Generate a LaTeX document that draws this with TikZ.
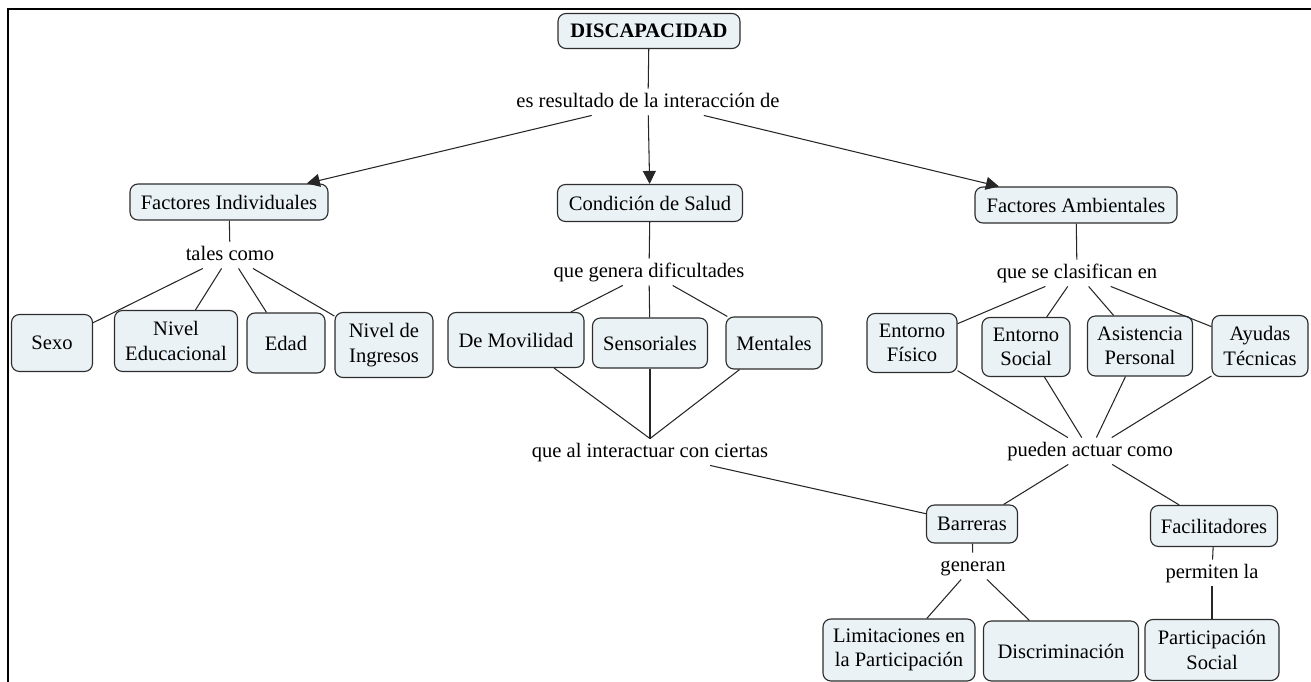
\documentclass[tikz,border=0pt]{standalone}
\usepackage{fontspec}
\setmainfont{Liberation Serif}
\usetikzlibrary{arrows.meta}
\definecolor{fondoconcepto}{RGB}{234,242,246}
\definecolor{bordeconcepto}{RGB}{45,45,45}

\begin{document}
\begin{tikzpicture}[x=0.02cm,y=-0.02cm,
	concepto/.style={draw=bordeconcepto,fill=fondoconcepto,rounded corners=4.5pt,line width=0.65pt,align=center,inner sep=2pt,font=\fontsize{11.7}{13.9}\selectfont},
	enlace/.style={inner sep=2pt,text height=8.3pt,text depth=2.6pt,font=\fontsize{11.7}{13.9}\selectfont},
	linea/.style={draw=black!85,line width=0.6pt},
	flecha/.style={linea,-{Triangle[length=7.4pt,width=7.4pt]}}]
	\useasboundingbox (0,0) rectangle (1311,682);

	% cadre
	\draw[line width=1.15pt] (8,682) -- (8,9) -- (1311,9);

	% racine
	\node[concepto,minimum width=3.64cm,minimum height=0.70cm] (disc) at (649,31) {\textbf{DISCAPACIDAD}};
	\node[enlace] (res) at (648,102) {es resultado de la interacción de};

	% niveau 1
	\node[concepto,minimum width=3.96cm,minimum height=0.72cm] (indiv) at (229,202) {Factores Individuales};
	\node[concepto,minimum width=3.70cm,minimum height=0.74cm] (salud) at (650,203) {Condición de Salud};
	\node[concepto,minimum width=4.04cm,minimum height=0.72cm] (amb) at (1076,205) {Factores Ambientales};

	\node[enlace] (tales) at (230,255) {tales como};
	\node[enlace] (genera) at (649,272) {que genera dificultades};
	\node[enlace] (clasif) at (1077,273) {que se clasifican en};

	% niveau 2
	\node[concepto,minimum width=1.62cm,minimum height=1.14cm] (sexo) at (52,343) {Sexo};
	\node[concepto,minimum width=2.46cm,minimum height=1.22cm] (niveduc) at (176,341) {Nivel\\Educacional};
	\node[concepto,minimum width=1.56cm,minimum height=1.20cm] (edad) at (286,343) {Edad};
	\node[concepto,minimum width=1.96cm,minimum height=1.30cm] (ingresos) at (384,345) {Nivel de\\Ingresos};

	\node[concepto,minimum width=2.72cm,minimum height=1.10cm] (movil) at (516,340) {De Movilidad};
	\node[concepto,minimum width=2.30cm,minimum height=1.00cm] (sensor) at (650,343) {Sensoriales};
	\node[concepto,minimum width=1.92cm,minimum height=1.04cm] (mental) at (774,343) {Mentales};

	\node[concepto,minimum width=1.80cm,minimum height=1.18cm] (fisico) at (912,343) {Entorno\\Físico};
	\node[concepto,minimum width=1.76cm,minimum height=1.18cm] (social) at (1026,347) {Entorno\\Social};
	\node[concepto,minimum width=2.10cm,minimum height=1.20cm] (asist) at (1140,346) {Asistencia\\Personal};
	\node[concepto,minimum width=1.92cm,minimum height=1.22cm] (ayudas) at (1260,346) {Ayudas\\Técnicas};

	\node[enlace] (interact) at (650,452) {que al interactuar con ciertas};
	\node[enlace] (actuar) at (1090,451) {pueden actuar como};

	% niveau 3
	\node[concepto,minimum width=1.82cm,minimum height=0.76cm] (barr) at (972,524) {Barreras};
	\node[concepto,minimum width=2.54cm,minimum height=0.82cm] (facil) at (1214,526) {Facilitadores};

	\node[enlace] (gen) at (973,566) {generan};
	\node[enlace] (permit) at (1212,573) {permiten la};

	\node[concepto,minimum width=3.04cm,minimum height=1.24cm] (lim) at (899,650) {Limitaciones en\\la Participación};
	\node[concepto,minimum width=3.10cm,minimum height=1.20cm] (discr) at (1061,651) {Discriminación};
	\node[concepto,minimum width=2.68cm,minimum height=1.22cm] (part) at (1212,650) {Participación\\Social};

	% liens du haut
	\draw[linea] (disc) -- (res);
	\draw[flecha] (res) -- (indiv);
	\draw[flecha] (res) -- (salud);
	\draw[flecha] (res) -- (amb);

	% factores individuales
	\draw[linea] (indiv) -- (tales);
	\draw[linea] (tales) -- (sexo);
	\draw[linea] (tales) -- (niveduc);
	\draw[linea] (tales) -- (edad);
	\draw[linea] (tales) -- (ingresos);

	% condicion de salud
	\draw[linea] (salud) -- (genera);
	\draw[linea] (genera) -- (movil);
	\draw[linea] (genera) -- (sensor);
	\draw[linea] (genera) -- (mental);
	\draw[linea] (movil) -- (interact.north);
	\draw[linea] (sensor) -- (interact.north);
	\draw[linea] (mental) -- (interact.north);
	\draw[linea] (interact) -- (barr);

	% factores ambientales
	\draw[linea] (amb) -- (clasif);
	\draw[linea] (clasif) -- (fisico);
	\draw[linea] (clasif) -- (social);
	\draw[linea] (clasif) -- (asist);
	\draw[linea] (clasif) -- (ayudas);
	\draw[linea] (fisico) -- (actuar);
	\draw[linea] (social) -- (actuar);
	\draw[linea] (asist) -- (actuar);
	\draw[linea] (ayudas) -- (actuar);
	\draw[linea] (actuar) -- (barr);
	\draw[linea] (actuar) -- (facil);

	% en bas
	\draw[linea] (barr) -- (gen);
	\draw[linea] (gen) -- (lim);
	\draw[linea] (gen) -- (discr);
	\draw[linea] (facil) -- (permit);
	\draw[linea] (permit) -- (part);
\end{tikzpicture}
\end{document}
